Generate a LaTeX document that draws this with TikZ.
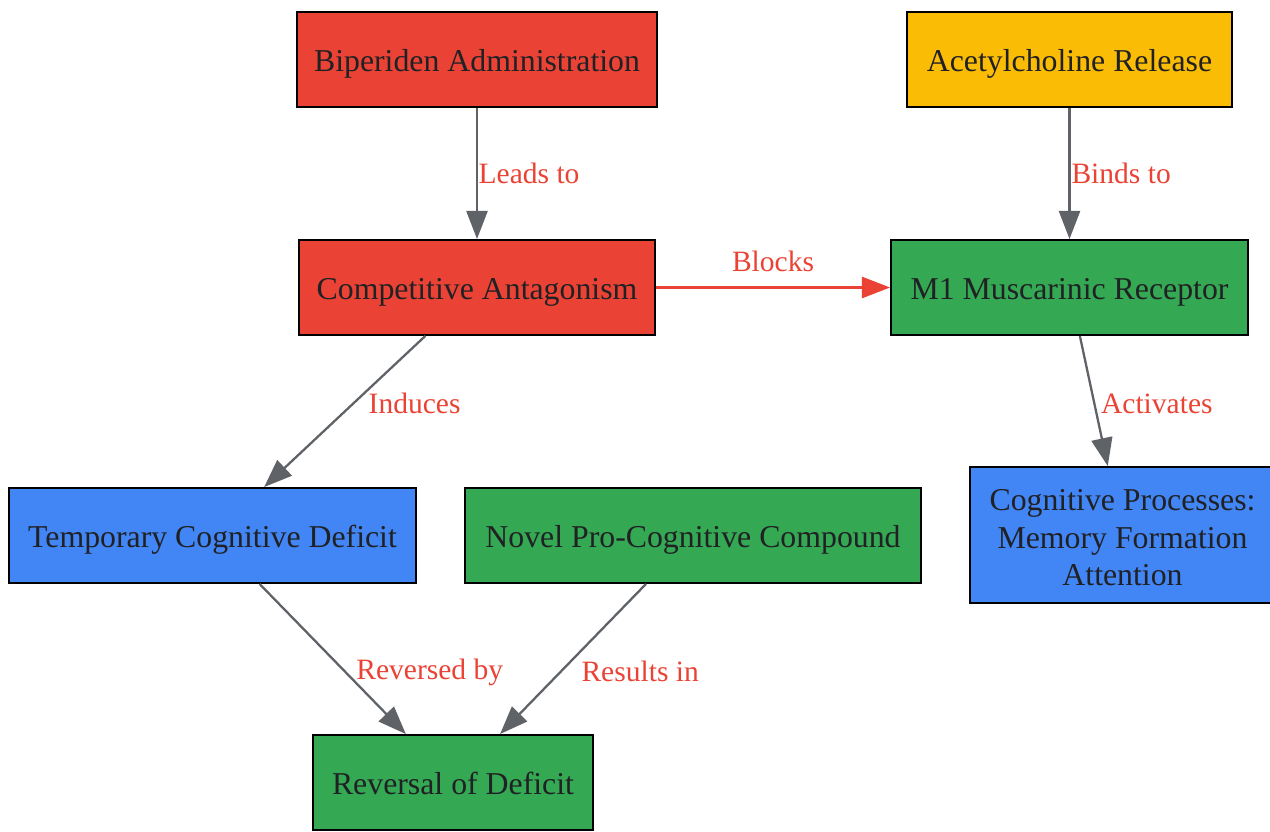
\documentclass[tikz,border=0pt]{standalone}
\usepackage{fontspec}
\setmainfont{Liberation Serif}
\usetikzlibrary{arrows.meta}
\definecolor{gred}{HTML}{EA4335}
\definecolor{gyellow}{HTML}{FBBC05}
\definecolor{ggreen}{HTML}{34A853}
\definecolor{gblue}{HTML}{4285F4}
\definecolor{gtext}{HTML}{202124}
\definecolor{gedge}{HTML}{5F6368}
\tikzset{
    box/.style={draw=black, line width=1.1pt, text=gtext, minimum height=1.9cm,
        align=center, inner sep=0pt, text height=13.6pt, text depth=0pt,
        font=\fontsize{18.1}{21.3}\selectfont},
    link/.style={draw=gedge, line width=1.3pt, -{Triangle[length=16pt,width=12pt]}},
    lbl/.style={text=gred, inner sep=0pt, font=\fontsize{16.8}{20}\selectfont}
}
\begin{document}
\begin{tikzpicture}[x=0.02cm, y=-0.02cm]
    \useasboundingbox (0, 0) rectangle (1270, 831);
    % boxes
    \node[box, fill=gred, minimum width=7.2cm] (bip) at (477, 59.5) {Biperiden Administration};
    \node[box, fill=gyellow, minimum width=6.5cm] (ach) at (1069.5, 59.5) {Acetylcholine Release};
    \node[box, fill=gred, minimum width=7.12cm] (comp) at (477, 287.5) {Competitive Antagonism};
    \node[box, fill=ggreen, minimum width=7.14cm] (mone) at (1069.5, 287.5) {M1 Muscarinic Receptor};
    \node[box, fill=gblue, minimum width=8.14cm] (deficit) at (212.5, 535.5) {Temporary Cognitive Deficit};
    \node[box, fill=ggreen, minimum width=9.12cm] (novel) at (693, 535.5) {Novel Pro-Cognitive Compound};
    \node[box, fill=gblue, minimum width=6.1cm, minimum height=2.72cm, text height=57.8pt] (cogn) at (1122.5, 535) {Cognitive Processes:\\Memory Formation\\Attention};
    \node[box, fill=ggreen, minimum width=5.6cm] (rev) at (453, 782.5) {Reversal of Deficit};
    % connectors
    \draw[link] (bip) -- node[lbl, anchor=west, xshift=0.3pt] {Leads to} (comp);
    \draw[link] (ach) -- node[lbl, anchor=west, xshift=0.5pt] {Binds to} (mone);
    \draw[link, draw=gred] (comp) -- node[lbl, above=8.5pt] {Blocks} (mone);
    \draw[link] (comp) -- node[lbl, anchor=west, xshift=13pt, yshift=4.5pt] {Induces} (deficit);
    \draw[link] (mone) -- node[lbl, anchor=west, xshift=3.5pt, yshift=-1.5pt] {Activates} (cogn);
    \draw[link] (deficit) -- node[lbl, anchor=west, xshift=12.8pt, yshift=-7.8pt] {Reversed by} (rev);
    \draw[link] (novel) -- node[lbl, anchor=west, xshift=4.2pt, yshift=-7pt] {Results in} (rev);
\end{tikzpicture}
\end{document}
